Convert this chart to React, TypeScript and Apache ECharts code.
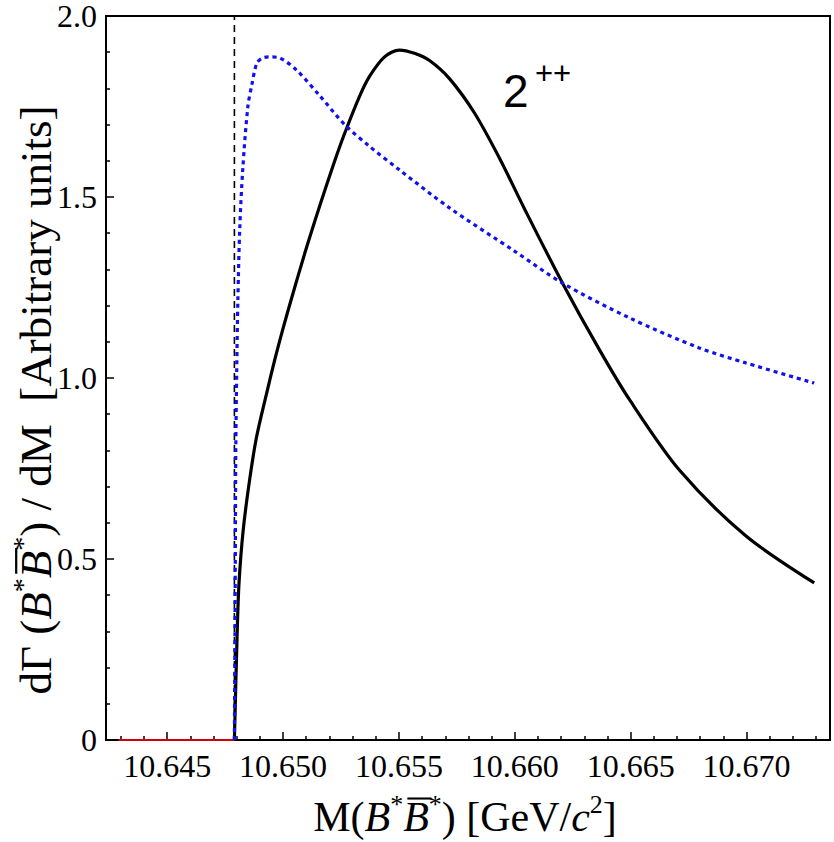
import React, { useEffect, useRef } from "react";
import * as echarts from "echarts";

// Mass axis (GeV/c^2)
const massMin = 10.64236;
const massMax = 10.6736;
const majorMassTicks = [10.645, 10.65, 10.655, 10.66, 10.665, 10.67];
const minorMassTicks = [
  10.643, 10.644, 10.646, 10.647, 10.648, 10.649, 10.651, 10.652, 10.653, 10.654,
  10.656, 10.657, 10.658, 10.659, 10.661, 10.662, 10.663, 10.664, 10.666, 10.667,
  10.668, 10.669, 10.671, 10.672, 10.673,
];
const rateTicks = [0, 0.5, 1.0, 1.5, 2.0];

// B* B*bar threshold
const threshold = 10.6479;

// 2++ line shape (solid black)
const solidMass = [
  10.6479, 10.64802, 10.6481, 10.64828, 10.64856, 10.64885, 10.64928, 10.64964, 10.65,
  10.65029, 10.65093, 10.65158, 10.65222, 10.65266, 10.6533, 10.65373, 10.65438,
  10.65502, 10.65567, 10.65632, 10.65718, 10.65826, 10.65934, 10.66042, 10.66206,
  10.66366, 10.66495, 10.66711, 10.66995, 10.67292,
];
const solidRate = [
  0, 0.296, 0.434, 0.58, 0.72, 0.835, 0.955, 1.05, 1.137,
  1.203, 1.343, 1.475, 1.598, 1.676, 1.778, 1.833, 1.887,
  1.906, 1.897, 1.877, 1.827, 1.732, 1.607, 1.467, 1.262,
  1.077, 0.94, 0.745, 0.565, 0.434,
];

// Comparison shape (dotted blue)
const dottedMass = [
  10.6479, 10.64792, 10.64794, 10.64796, 10.648, 10.64805, 10.64813, 10.64826,
  10.64848, 10.64865, 10.64887, 10.64912, 10.64943, 10.64986, 10.65059, 10.65158,
  10.65266, 10.65373, 10.65502, 10.65718, 10.66, 10.66206, 10.66495, 10.66796,
  10.66995, 10.67292,
];
const dottedRate = [
  0, 0.25, 0.5, 0.8, 1.02, 1.215, 1.41, 1.575,
  1.749, 1.809, 1.87, 1.884, 1.887, 1.884, 1.85, 1.78,
  1.7, 1.64, 1.575, 1.47, 1.35, 1.262, 1.166, 1.083,
  1.042, 0.986,
];

// Below-threshold segment (red)
const belowMass = [10.6429, threshold];
const belowRate = [0, 0];

const zip = (xs: number[], ys: number[]) => xs.map((x, i) => [x, ys[i]]);

type Piece = { t: string; italic?: boolean; sup?: boolean; bar?: boolean };

const SERIF = "Liberation Serif";

// Lays out a run of text pieces (italic, superscripts, overbars) from x = 0.
function titleRun(pieces: Piece[], size: number) {
  const ctx = document.createElement("canvas").getContext("2d")!;
  const children: any[] = [];
  let x = 0;
  for (const p of pieces) {
    const fs = p.sup ? Math.round(size * 0.62) : size;
    const fstyle = p.italic ? "italic" : "normal";
    ctx.font = `${fstyle} ${fs}px "${SERIF}"`;
    const w = ctx.measureText(p.t).width;
    children.push({
      type: "text",
      x,
      y: p.sup ? -size * 0.3 : 0,
      style: {
        text: p.t,
        fontSize: fs,
        fontFamily: SERIF,
        fontStyle: fstyle,
        fill: "#000",
        textAlign: "left",
        align: "left",
        textVerticalAlign: "middle",
        verticalAlign: "middle",
      },
    });
    if (p.bar) {
      children.push({
        type: "line",
        shape: { x1: x + size * 0.1, y1: -size * 0.44, x2: x + w + size * 0.06, y2: -size * 0.44 },
        style: { stroke: "#000", lineWidth: Math.max(1.5, size * 0.05) },
      });
    }
    x += w;
  }
  return { total: x, children };
}

const xTitlePieces: Piece[] = [
  { t: "M(" },
  { t: "B", italic: true },
  { t: "*", sup: true },
  { t: "B", italic: true, bar: true },
  { t: "*", sup: true },
  { t: ") [GeV/" },
  { t: "c", italic: true },
  { t: "2", sup: true },
  { t: "]" },
];

const yTitlePieces: Piece[] = [
  { t: "d\u0393 (" },
  { t: "B", italic: true },
  { t: "*", sup: true },
  { t: "B", italic: true, bar: true },
  { t: "*", sup: true },
  { t: ") / dM  [Arbitrary units]" },
];

export default function App() {
  const ref = useRef<HTMLDivElement>(null);

  useEffect(() => {
    if (!ref.current) return;
    const chart = echarts.init(ref.current, null, { renderer: "svg" });

    const gridLeft = 106;
    const gridTop = 16;
    const gridW = 724;
    const gridH = 724;

    const xt = titleRun(xTitlePieces, 42);
    const yt = titleRun(yTitlePieces, 45);

    const tickLabel = {
      fontFamily: SERIF,
      fontSize: 32,
      color: "#000",
    };

    chart.setOption({
      animation: false,
      backgroundColor: "#fff",
      grid: {
        left: gridLeft,
        top: gridTop,
        width: gridW,
        height: gridH,
        show: true,
        borderColor: "#000",
        borderWidth: 2,
        backgroundColor: "transparent",
      },
      xAxis: [
        {
          type: "value",
          min: massMin,
          max: massMax,
          position: "bottom",
          axisLine: { show: false },
          splitLine: { show: false },
          axisTick: {
            show: true,
            inside: true,
            length: 8,
            customValues: majorMassTicks,
            lineStyle: { color: "#000", width: 1.5 },
          },
          axisLabel: {
            ...tickLabel,
            margin: 10,
            customValues: majorMassTicks,
            formatter: (v: number) => v.toFixed(3),
          },
        },
        {
          type: "value",
          min: massMin,
          max: massMax,
          position: "bottom",
          axisLine: { show: false },
          splitLine: { show: false },
          axisLabel: { show: false },
          axisTick: {
            show: true,
            inside: true,
            length: 4,
            customValues: minorMassTicks,
            lineStyle: { color: "#000", width: 1.5 },
          },
        },
      ],
      yAxis: {
        type: "value",
        min: rateTicks[0],
        max: rateTicks[rateTicks.length - 1],
        interval: 0.5,
        axisLine: { show: false },
        splitLine: { show: false },
        axisTick: { show: true, inside: true, length: 8, lineStyle: { color: "#000", width: 1.5 } },
        minorTick: { show: true, splitNumber: 5, length: 4, lineStyle: { color: "#000", width: 1.5 } },
        axisLabel: {
          ...tickLabel,
          margin: 9,
          formatter: (v: number) => (v === 0 ? "0" : v.toFixed(1)),
        },
      },
      series: [
        {
          type: "line",
          data: [
            [threshold, rateTicks[0]],
            [threshold, rateTicks[rateTicks.length - 1]],
          ],
          showSymbol: false,
          lineStyle: { color: "#000", width: 1.6, type: [7, 5] },
          z: 1,
        },
        {
          type: "line",
          data: zip(belowMass, belowRate),
          showSymbol: false,
          lineStyle: { color: "#d40000", width: 2 },
          z: 2,
        },
        {
          type: "line",
          data: zip(solidMass, solidRate),
          showSymbol: false,
          smooth: 0.3,
          lineStyle: { color: "#000", width: 3.2 },
          z: 3,
        },
        {
          type: "line",
          data: zip(dottedMass, dottedRate),
          showSymbol: false,
          smooth: 0.3,
          lineStyle: { color: "#1010f0", width: 3.2, type: [4, 4] },
          z: 4,
        },
      ],
      graphic: [
        {
          type: "group",
          x: 465 - xt.total / 2,
          y: 817,
          children: xt.children,
        },
        {
          type: "group",
          x: 36,
          y: 400,
          rotation: Math.PI / 2,
          children: [{ type: "group", x: -yt.total / 2, y: 0, children: yt.children }],
        },
        {
          type: "text",
          x: 503,
          y: 91,
          style: {
            text: "2",
            fontFamily: "Liberation Sans",
            fontSize: 46,
            fill: "#000",
            textVerticalAlign: "middle",
            verticalAlign: "middle",
          },
        },
        {
          type: "text",
          x: 535,
          y: 73,
          style: {
            text: "++",
            fontFamily: "Liberation Sans",
            fontSize: 31,
            fill: "#000",
            textVerticalAlign: "middle",
            verticalAlign: "middle",
          },
        },
      ],
    });

    return () => chart.dispose();
  }, []);

  return (
    <div
      ref={ref}
      style={{ position: "fixed", left: 0, top: 0, width: 834, height: 842, background: "#fff" }}
    />
  );
}
